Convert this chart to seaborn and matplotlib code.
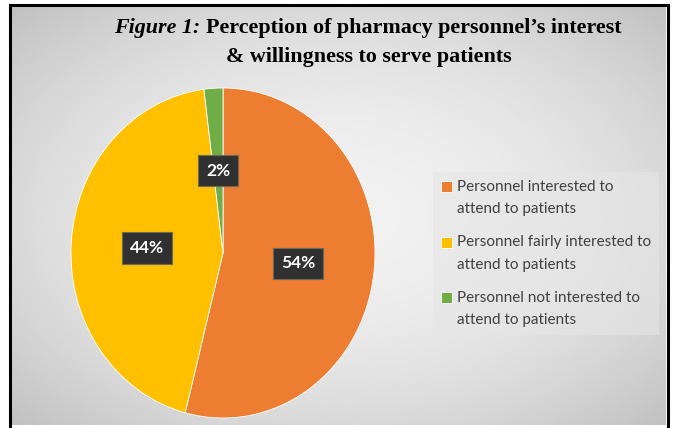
import matplotlib
matplotlib.use("Agg")
import matplotlib.pyplot as plt
import numpy as np
import seaborn as sns
from matplotlib.patches import Rectangle
from matplotlib.legend_handler import HandlerPatch

# data
labels = ['Personnel interested to\nattend to patients',
          'Personnel fairly interested to\nattend to patients',
          'Personnel not interested to\nattend to patients']
shares = [54, 44, 2]
colors = ['#ED7D31', '#FFC000', '#70AD47']

sns.set_style("white")
plt.rcParams['font.family'] = ['Lato', 'DejaVu Sans']

W, H = 673, 428
fig = plt.figure(figsize=(W / 100, H / 100), dpi=100)
fig.patch.set_facecolor('white')

def fx(px):
    return px / W

def fy(py):
    return 1 - py / H

# gradient background panel
bg = fig.add_axes([fx(12), fy(425), fx(666) - fx(12), fy(7) - fy(425)])
yy, xx = np.mgrid[-1:1:200j, -1:1:300j]
r2 = (xx ** 2 + yy ** 2) / 2
grad = 0.945 - 0.19 * r2
bg.imshow(grad, cmap='gray', vmin=0, vmax=1, aspect='auto', extent=[0, 1, 0, 1])
bg.set_axis_off()

# outer frame (left, top, right)
fig.patches.append(Rectangle((fx(10), fy(440)), fx(668) - fx(10), fy(5) - fy(440),
                             transform=fig.transFigure, fill=False, ec='black', lw=2.2, zorder=0.5))

# pie
ax = fig.add_axes([fx(71), fy(418), fx(375) - fx(71), fy(88) - fy(418)])
wedges, texts, autotexts = ax.pie(
    shares, colors=colors, startangle=90, counterclock=False,
    autopct=lambda p: f'{p:.0f}%', pctdistance=0.5,
    wedgeprops=dict(edgecolor='white', linewidth=0.6),
    textprops=dict(color='white', fontsize=12.5, fontweight='bold'))
for t in autotexts:
    t.set_bbox(dict(boxstyle='square,pad=0.45', fc='#303030', ec='#6a6a5a', lw=0.8))
ax.set_aspect('auto')
ax.set_xlim(-1, 1)
ax.set_ylim(-1, 1)
ax.set_axis_off()

# legend
def top_square(legend, orig_handle, xdescent, ydescent, width, height, fontsize):
    s = fontsize * 0.72
    return Rectangle((-xdescent, -ydescent + height - s + 2), s, s)

leg = fig.legend(wedges, labels, loc='upper left',
                 bbox_to_anchor=(fx(433), fy(172)),
                 frameon=True, fancybox=False, fontsize=11,
                 handlelength=0.7, handleheight=2.6, handletextpad=0.4,
                 labelspacing=1.27, borderpad=0.5, borderaxespad=0,
                 handler_map={matplotlib.patches.Wedge: HandlerPatch(patch_func=top_square)})
leg.get_frame().set_facecolor('#e6e6e6')
leg.get_frame().set_alpha(0.6)
leg.get_frame().set_edgecolor('none')
for t in leg.get_texts():
    t.set_color('#404040')
    t.set_linespacing(1.75)

# title
serif = ['Liberation Serif', 'DejaVu Serif']
fs = 15.8
t1 = fig.text(0, fy(28), 'Figure 1: ', family=serif, style='italic', fontweight='bold',
              fontsize=fs, va='center', color='black')
t2 = fig.text(0, fy(28), 'Perception of pharmacy personnel\u2019s interest', family=serif,
              fontweight='bold', fontsize=fs, va='center', color='black')
fig.canvas.draw()
r = fig.canvas.get_renderer()
w1 = t1.get_window_extent(r).width
w2 = t2.get_window_extent(r).width
x0 = 368 - (w1 + w2) / 2
t1.set_x(fx(x0))
t2.set_x(fx(x0 + w1))
fig.text(fx(369), fy(57), '& willingness to serve patients', family=serif,
         fontweight='bold', fontsize=fs, va='center', ha='center', color='black')

fig.savefig('out.png', dpi=100)
